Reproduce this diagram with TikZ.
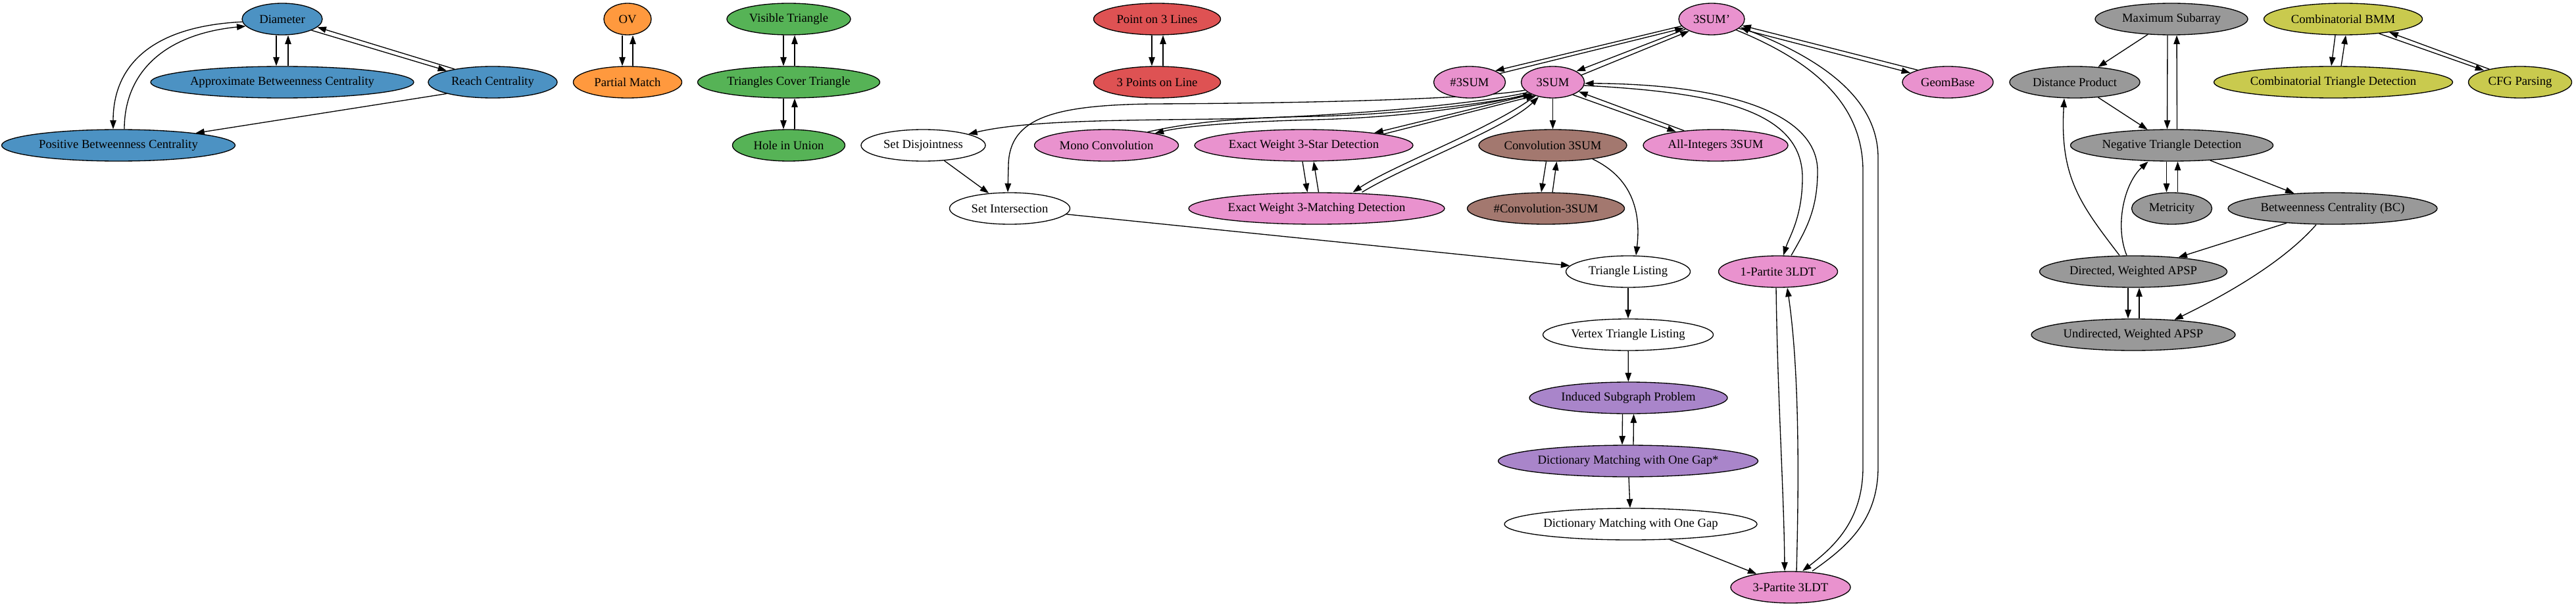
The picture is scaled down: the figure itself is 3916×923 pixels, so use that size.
\documentclass[tikz,border=0pt]{standalone}
\usepackage{fontspec}
\setmainfont{Liberation Serif}
\usetikzlibrary{shapes.geometric,arrows.meta}
\definecolor{cblue}{HTML}{4C92C3}
\definecolor{corange}{HTML}{FF993E}
\definecolor{cgreen}{HTML}{56B356}
\definecolor{cred}{HTML}{DE5253}
\definecolor{cpink}{HTML}{E992CE}
\definecolor{cbrown}{HTML}{A3786F}
\definecolor{cpurple}{HTML}{A985CA}
\definecolor{cgray}{HTML}{999999}
\definecolor{colive}{HTML}{C9CA4E}
\pgfdeclarelayer{edges}
\pgfsetlayers{edges,main}
\tikzset{
  gnode/.style={ellipse, draw=black, line width=1.33pt, minimum height=48pt, inner sep=0pt, fill=white,
    font=\fontsize{18.67}{22}\selectfont},
  arr/.style={line width=1.33pt, -{Triangle[length=13.5pt,width=9.5pt]}},
}
\begin{document}
\begin{tikzpicture}[x=1pt,y=-1pt]
\useasboundingbox (0,0) rectangle (3916,923);
% blue
\node[gnode, fill=cblue, minimum width=122pt] (dia) at (429,29) {Diameter};
\node[gnode, fill=cblue, minimum width=400pt] (abc) at (429,125) {Approximate Betweenness Centrality};
\node[gnode, fill=cblue, minimum width=196pt] (rc) at (749,125) {Reach Centrality};
\node[gnode, fill=cblue, minimum width=355pt] (pbc) at (180,221) {Positive Betweenness Centrality};
% orange
\node[gnode, fill=corange, minimum width=72pt] (ov) at (954,29) {OV};
\node[gnode, fill=corange, minimum width=165pt] (pm) at (954,125) {Partial Match};
% green
\node[gnode, fill=cgreen, minimum width=188pt] (vt) at (1199,29) {Visible Triangle};
\node[gnode, fill=cgreen, minimum width=277pt] (tct) at (1199,125) {Triangles Cover Triangle};
\node[gnode, fill=cgreen, minimum width=171pt] (hu) at (1199,221) {Hole in Union};
% red
\node[gnode, fill=cred, minimum width=193pt] (p3l) at (1759,29) {Point on 3 Lines};
\node[gnode, fill=cred, minimum width=193pt] (p3pl) at (1759,125) {3 Points on Line};
% white
\node[gnode, minimum width=189pt] (sd) at (1403.5,221) {Set Disjointness};
\node[gnode, minimum width=183pt] (si) at (1535,317) {Set Intersection};
% pink
\node[gnode, fill=cpink, minimum width=219pt] (mc) at (1682,221) {Mono Convolution};
\node[gnode, fill=cpink, minimum width=332pt] (ew3s) at (1982,221) {Exact Weight 3-Star Detection};
\node[gnode, fill=cpink, minimum width=389pt] (ew3m) at (2001.5,317) {Exact Weight 3-Matching Detection};
\node[gnode, fill=cpink, minimum width=100pt] (s3p) at (2602,29) {3SUM'};
\node[gnode, fill=cpink, minimum width=109pt] (h3s) at (2234,125) {\#3SUM};
\node[gnode, fill=cpink, minimum width=96pt] (s3) at (2360.5,125) {3SUM};
\node[gnode, fill=cpink, minimum width=220pt] (ai) at (2608,221) {All-Integers 3SUM};
\node[gnode, fill=cpink, minimum width=138pt] (gb) at (2961,125) {GeomBase};
\node[gnode, fill=cpink, minimum width=181pt] (p1) at (2703,413) {1-Partite 3LDT};
\node[gnode, fill=cpink, minimum width=182pt] (p3) at (2722,893) {3-Partite 3LDT};
% brown
\node[gnode, fill=cbrown, minimum width=225pt] (c3) at (2360.5,221) {Convolution 3SUM};
\node[gnode, fill=cbrown, minimum width=239pt] (hc3) at (2350,317) {\#Convolution-3SUM};
% white chain
\node[gnode, minimum width=189pt] (tl) at (2475,413) {Triangle Listing};
\node[gnode, minimum width=259pt] (vtl) at (2475,509) {Vertex Triangle Listing};
\node[gnode, minimum width=384pt] (dm) at (2479,797) {Dictionary Matching with One Gap};
% purple
\node[gnode, fill=cpurple, minimum width=301pt] (isp) at (2475.5,605) {Induced Subgraph Problem};
\node[gnode, fill=cpurple, minimum width=395pt] (dms) at (2475,701) {Dictionary Matching with One Gap*};
% gray
\node[gnode, fill=cgray, minimum width=232pt] (ms) at (3301,29) {Maximum Subarray};
\node[gnode, fill=cgray, minimum width=198pt] (dp) at (3154,125) {Distance Product};
\node[gnode, fill=cgray, minimum width=308pt] (ntd) at (3301.5,221) {Negative Triangle Detection};
\node[gnode, fill=cgray, minimum width=122pt] (met) at (3301.5,317) {Metricity};
\node[gnode, fill=cgray, minimum width=318pt] (bc) at (3546,317) {Betweenness Centrality (BC)};
\node[gnode, fill=cgray, minimum width=285pt] (dwa) at (3243,413) {Directed, Weighted APSP};
\node[gnode, fill=cgray, minimum width=310pt] (uwa) at (3243,509) {Undirected, Weighted APSP};
% olive
\node[gnode, fill=colive, minimum width=241pt] (cbmm) at (3562,29) {Combinatorial BMM};
\node[gnode, fill=colive, minimum width=363pt] (ctd) at (3547,125) {Combinatorial Triangle Detection};
\node[gnode, fill=colive, minimum width=157pt] (cfg) at (3831,125) {CFG Parsing};

\begin{pgfonlayer}{edges}
\fill[white] (0,0) rectangle (3916,923);
% blue
\draw[arr] ([xshift=-9]dia.south) -- ([xshift=-9]abc.north);
\draw[arr] ([xshift=9]abc.north) -- ([xshift=9]dia.south);
\draw[arr] (dia.-21) -- (rc.166);
\draw[arr] (rc.161) -- (dia.-13);
\draw[arr] (dia.184) .. controls (230,40) and (172,100) .. ([xshift=-8]pbc.north);
\draw[arr] ([xshift=9]pbc.north) .. controls (189,110) and (250,52) .. (dia.191);
\draw[arr] (rc.194) -- (pbc.9);
% orange
\draw[arr] ([xshift=-8]ov.south) -- ([xshift=-8]pm.north);
\draw[arr] ([xshift=8]pm.north) -- ([xshift=8]ov.south);
% green
\draw[arr] ([xshift=-8]vt.south) -- ([xshift=-8]tct.north);
\draw[arr] ([xshift=9]tct.north) -- ([xshift=9]vt.south);
\draw[arr] ([xshift=-8]tct.south) -- ([xshift=-8]hu.north);
\draw[arr] ([xshift=9]hu.north) -- ([xshift=9]tct.south);
% red
\draw[arr] ([xshift=-8]p3l.south) -- ([xshift=-8]p3pl.north);
\draw[arr] ([xshift=9]p3pl.north) -- ([xshift=9]p3l.south);
% 3SUM'
\draw[arr] (s3p.193) -- (h3s.24);
\draw[arr] (h3s.16) -- (s3p.198);
\draw[arr] (s3p.201) -- (s3.25);
\draw[arr] (s3.14) -- (s3p.208);
\draw[arr] (s3p.-19) -- (gb.166);
\draw[arr] (gb.158) -- (s3p.-12);
\draw[arr] (s3p.-24) .. controls (2760,95) and (2832,160) .. (2832,260) -- (2832,710)
  .. controls (2832,790) and (2790,830) .. ([xshift=18]p3.north);
\draw[arr] ([xshift=33]p3.north) .. controls (2810,830) and (2855,790) .. (2855,710) -- (2855,240)
  .. controls (2855,150) and (2770,90) .. (s3p.-16);
% 3SUM <-> 1-Partite
\draw[arr] (s3.-6) .. controls (2600,140) and (2740,165) .. (2740,270)
  .. controls (2740,330) and (2720,360) .. ([xshift=8]p1.north);
\draw[arr] ([xshift=20]p1.north) .. controls (2745,350) and (2763,320) .. (2763,260)
  .. controls (2763,170) and (2620,128) .. (s3.-2);
% 1-Partite <-> 3-Partite
\draw[arr] ([xshift=-3]p1.south) .. controls (2702,600) and (2712,750) .. ([xshift=-9]p3.north);
\draw[arr] ([xshift=9]p3.north) .. controls (2735,720) and (2735,560) .. ([xshift=14]p1.south);
% 3SUM <-> All-Integers
\draw[arr] (s3.-32) -- (ai.161);
\draw[arr] (ai.155) -- (s3.-20);
% 3SUM -> Convolution 3SUM
\draw[arr] (s3) -- (c3);
\draw[arr] ([xshift=-10]c3.south) -- ([xshift=-7]hc3.north);
\draw[arr] ([xshift=10]hc3.north) -- ([xshift=6]c3.south);
\draw[arr] (c3.-19) .. controls (2480,270) and (2495,320) .. ([xshift=12]tl.north);
% 3SUM left side
\draw[arr] (s3.196) .. controls (2250,150) and (2000,157) .. (1750,158)
  .. controls (1600,160) and (1535,180) .. (1533,250) -- ([xshift=-3]si.north);
\draw[arr] (s3.202) .. controls (2265,155) and (2050,178) .. (1850,181)
  .. controls (1700,183) and (1560,183) .. (sd.14);
\draw[arr] (s3.206) .. controls (2270,158) and (2150,178) .. (2000,182)
  .. controls (1880,185) and (1800,192) .. (mc.14);
\draw[arr] (mc.18) .. controls (1810,186) and (1880,179) .. (2000,177)
  .. controls (2150,173) and (2265,155) .. (s3.211);
\draw[arr] (s3.210) -- (ew3s.10);
\draw[arr] (ew3s.8) -- (s3.217);
\draw[arr] (s3.218) .. controls (2270,195) and (2120,250) .. ([xshift=55]ew3m.north);
\draw[arr] ([xshift=69]ew3m.north) .. controls (2140,250) and (2290,195) .. (s3.226);
\draw[arr] ([xshift=-2]ew3s.south) -- ([xshift=-14]ew3m.north);
\draw[arr] ([xshift=3]ew3m.north) -- ([xshift=15]ew3s.south);
% white chain
\draw[arr] (sd) -- (si);
\draw[arr] (si) -- (tl);
\draw[arr] (tl) -- (vtl);
\draw[arr] (vtl) -- (isp);
\draw[arr] ([xshift=-9]isp.south) -- ([xshift=-9]dms.north);
\draw[arr] ([xshift=8]dms.north) -- ([xshift=8]isp.south);
\draw[arr] (dms) -- (dm);
\draw[arr] (dm) -- (p3);
% gray
\draw[arr] (ms) -- (dp);
\draw[arr] ([xshift=-6]ms.south) -- ([xshift=-7]ntd.north);
\draw[arr] ([xshift=8]ntd.north) -- ([xshift=8]ms.south);
\draw[arr] (dp) -- (ntd);
\draw[arr] ([xshift=-8]ntd.south) -- ([xshift=-8]met.north);
\draw[arr] ([xshift=9]met.north) -- ([xshift=9]ntd.south);
\draw[arr] (ntd) -- (bc);
\draw[arr] (bc) -- (dwa);
\draw[arr] ([xshift=-25]bc.south) .. controls (3470,400) and (3380,450) .. (uwa.20);
\draw[arr] ([xshift=-8]dwa.south) -- ([xshift=-8]uwa.north);
\draw[arr] ([xshift=9]uwa.north) -- ([xshift=9]dwa.south);
\draw[arr] ([xshift=-21]dwa.north) .. controls (3162,310) and (3131,269) .. ([xshift=-16]dp.south);
\draw[arr] ([xshift=-10]dwa.north) .. controls (3215,345) and (3228,280) .. ([xshift=-36]ntd.south);
% olive
\draw[arr] ([xshift=-12]cbmm.south) -- ([xshift=-3]ctd.north);
\draw[arr] ([xshift=12]ctd.north) -- ([xshift=4]cbmm.south);
\draw[arr] (cbmm.-22) -- (cfg.162);
\draw[arr] (cfg.157) -- (cbmm.-16);
\end{pgfonlayer}
\end{tikzpicture}
\end{document}
